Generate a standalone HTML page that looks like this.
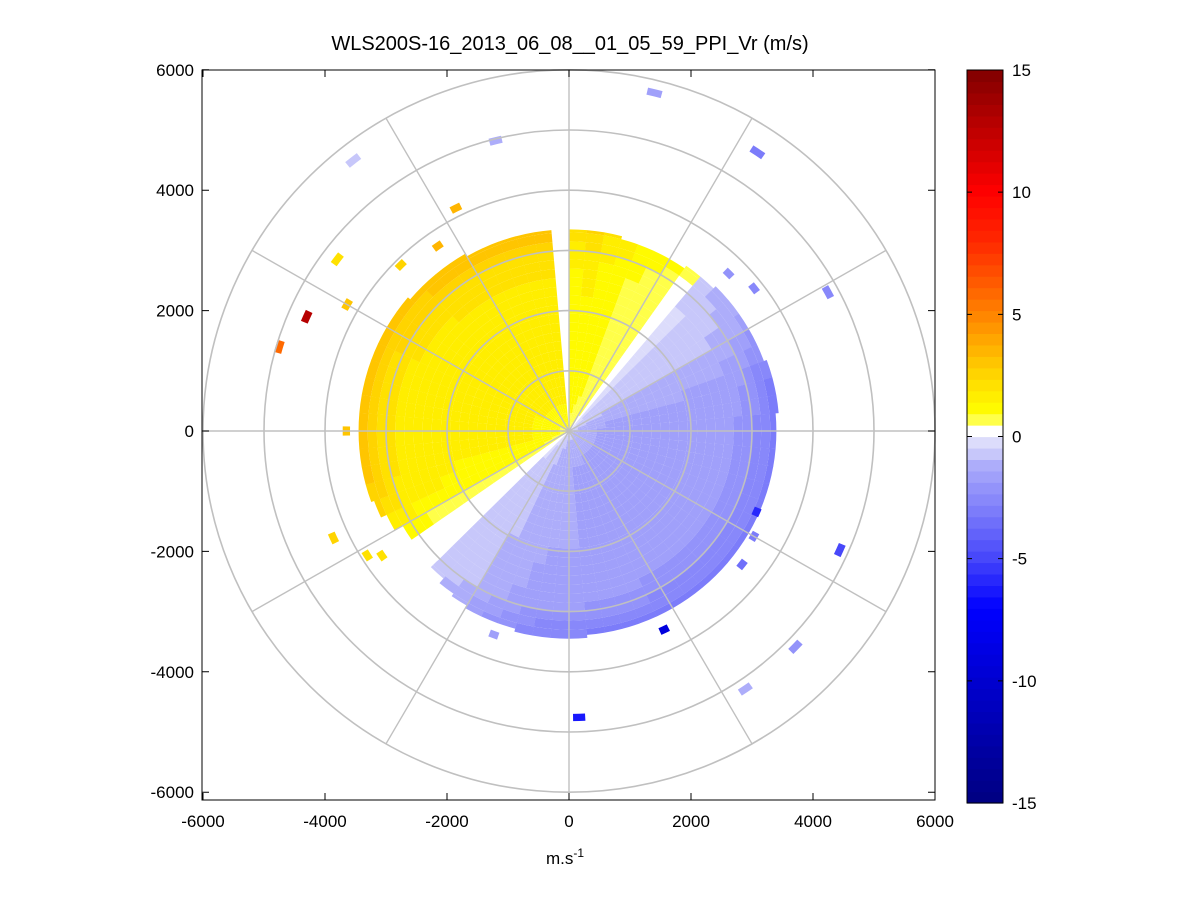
<!DOCTYPE html>
<html><head><meta charset="utf-8"><style>
body{margin:0;background:#fff;}
svg{display:block;font-family:"Liberation Sans",sans-serif;}
</style></head><body>
<svg id="chart" width="1201" height="901" viewBox="0 0 1201 901">
<rect x="0" y="0" width="1201" height="901" fill="#fff"/>
<rect x="202" y="70" width="733" height="730" fill="#fff"/>
<g id="cells"></g>
<g id="grid"></g>
<rect x="202" y="70" width="733" height="730" fill="none" stroke="#000" stroke-width="1"/>
<g id="ticks"></g>
<g id="cbar"></g>
<text x="570" y="50" text-anchor="middle" font-size="20" fill="#000">WLS200S-16_2013_06_08__01_05_59_PPI_Vr (m/s)</text>
<text x="565" y="864" text-anchor="middle" font-size="17" fill="#000">m.s<tspan dy="-7" font-size="12">-1</tspan></text>
</svg>
<script>
// ---- data ----
const azStarts = [0,5,10,15,20,25,30,35,40,45,50,55,60,65,70,75,80,85,90,95,100,105,110,115,120,125,130,135,140,145,150,155,160,165,170,175,180,185,190,195,200,205,210,215,220,225,230,235,240,245,250,255,260,265,270,275,280,285,290,295,300,305,310,315,320,325,330,335,340,345,350,355];
const sectorVel = [1.2,1.3,1.1,1.0,0.8,0.7,0.6,0.3,-0.4,-0.6,-0.7,-0.8,-1.0,-1.2,-1.4,-1.5,-1.5,-1.6,-1.6,-1.6,-1.6,-1.6,-1.6,-1.6,-1.6,-1.6,-1.6,-1.6,-1.6,-1.6,-1.6,-1.5,-1.5,-1.5,-1.5,-1.4,-1.4,-1.4,-1.3,-1.2,-1.0,-0.9,-0.7,-0.6,-0.5,0.2,0.2,0.8,1.1,1.3,1.4,1.5,1.5,1.5,1.5,1.5,1.5,1.5,1.5,1.6,1.6,1.6,1.6,1.7,1.7,1.7,1.7,1.7,1.7,1.7,1.7,null];
const sectorMaxRange = [3350,3350,3350,3300,3300,3300,3300,3350,3350,3400,3400,3400,3400,3400,3450,3450,3450,3400,3400,3400,3400,3400,3400,3400,3400,3400,3400,3400,3400,3400,3400,3400,3400,3400,3400,3450,3450,3450,3450,3400,3400,3400,3350,3300,3200,3050,3000,3150,3300,3400,3450,3450,3450,3450,3500,3500,3500,3450,3450,3450,3450,3450,3400,3400,3400,3400,3350,3350,3350,3350,3350,0];
const gateStarts = [0,150,300,450,600,750,900,1050,1200,1350,1500,1650,1800,1950,2100,2250,2400,2550,2700,2850,3000,3150,3300];
const gateScale = [0.6,0.7,0.8,0.9,0.95,1.0,1.0,1.0,1.0,1.0,1.0,1.0,1.0,1.05,1.05,1.1,1.1,1.15,1.2,1.3,1.5,1.7,1.9];
const outAz = [293.8,286.4,306.9,333.4,321.8,346,14,33.7,61.5,114,134,146,178,154.7,113.6,245.3,270,236,238,300,315,325,45,52,120,128,200];
const outRange = [4700,4950,4750,4140,5720,4970,5790,5565,4830,4860,5160,5170,4760,3650,3355,4250,3650,3700,3900,4200,3900,3750,3700,3850,3500,3600,3600];
const outVel = [13,6,2.2,3.5,-0.8,-1.2,-1.5,-3,-2.5,-5,-2,-1.2,-6.5,-9,-6,2.5,3,2,2.2,3.2,2.6,3.5,-2,-2.5,-3,-3.5,-1.5];
const tickVals = [-6000,-4000,-2000,0,2000,4000,6000];
const cbarTicks = [-15,-10,-5,0,5,10,15];
const ringRanges = [1000,2000,3000,4000,5000,6000];
const spokeAngles = [0,30,60,90,120,150,180,210,240,270,300,330];

// ---- scales ----
const CX = 569, CY = 431, SX = 0.0610, SY = 0.0602;
const px = (x)=>CX + x*SX;
const py = (y)=>CY - y*SY;
const NS = "http://www.w3.org/2000/svg";
function polar(az, r){const a=az*Math.PI/180;return [px(r*Math.sin(a)), py(r*Math.cos(a))];}

const stopsPos = [[0,[255,255,255]],[0.47,[255,255,255]],[0.48,[255,255,128]],[1.0,[255,255,0]],[2.5,[255,215,0]],[4,[255,165,0]],[6,[255,100,0]],[8,[255,40,0]],[10,[255,0,0]],[15,[128,0,0]]];
const stopsNeg = [[0,[225,225,252]],[0.47,[215,215,250]],[1,[178,178,250]],[2,[150,150,250]],[3,[125,125,250]],[5,[70,70,250]],[7,[0,0,255]],[15,[0,0,128]]];
function cmap(v){
  const step = 30/64;
  let q = Math.floor((v+15)/step); q=Math.max(0,Math.min(63,q));
  let c = -15 + (q+0.5)*step;
  const stops = c>=0 ? stopsPos : stopsNeg; const m = Math.abs(c);
  for(let i=1;i<stops.length;i++){
    if(m<=stops[i][0]){const [a0,c0]=stops[i-1],[a1,c1]=stops[i];const t=(m-a0)/(a1-a0||1);
      return `rgb(${c0.map((k,j)=>Math.round(k+(c1[j]-k)*t)).join(',')})`;}
  }
  const l=stops[stops.length-1][1]; return `rgb(${l.join(',')})`;
}
function sectorPath(a0,a1,r0,r1){
  const p1=polar(a0,r0),p2=polar(a0,r1),p3=polar(a1,r1),p4=polar(a1,r0);
  return `M${p1[0]},${p1[1]}L${p2[0]},${p2[1]}A${r1*SX},${r1*SY} 0 0 1 ${p3[0]},${p3[1]}L${p4[0]},${p4[1]}A${r0*SX},${r0*SY} 0 0 0 ${p1[0]},${p1[1]}Z`;
}
const cells = document.getElementById('cells');
azStarts.forEach((az,i)=>{
  const v = sectorVel[i]; if(v===null) return;
  gateStarts.forEach((g,j)=>{
    if(g>=sectorMaxRange[i]) return;
    const r1 = Math.min(g+150, sectorMaxRange[i]);
    const val = v*gateScale[j];
    const p = document.createElementNS(NS,'path');
    p.setAttribute('d', sectorPath(az,az+5.05,g,r1));
    p.setAttribute('fill', cmap(val));
    
    
    cells.appendChild(p);
  });
});
outAz.forEach((az,i)=>{
  const p = document.createElementNS(NS,'path');
  p.setAttribute('d', sectorPath(az-1.2,az+1.2,outRange[i]-60,outRange[i]+60));
  p.setAttribute('fill', cmap(outVel[i]));
  
  
  cells.appendChild(p);
});
const grid = document.getElementById('grid');
ringRanges.forEach(r=>{
  const e=document.createElementNS(NS,'ellipse');
  e.setAttribute('cx',CX);e.setAttribute('cy',CY);e.setAttribute('rx',r*SX);e.setAttribute('ry',r*SY);
  e.setAttribute('fill','none');e.setAttribute('stroke','#c0c0c0');e.setAttribute('stroke-width','1.6');
  
  
  grid.appendChild(e);
});
spokeAngles.forEach(a=>{
  const p=polar(a,6000);
  const l=document.createElementNS(NS,'line');
  l.setAttribute('x1',CX);l.setAttribute('y1',CY);l.setAttribute('x2',p[0]);l.setAttribute('y2',p[1]);
  l.setAttribute('stroke','#c0c0c0');l.setAttribute('stroke-width','1.4');
  
  
  grid.appendChild(l);
});
const ticks = document.getElementById('ticks');
tickVals.forEach(v=>{
  const x=px(v);
  const t1=document.createElementNS(NS,'path');
  t1.setAttribute('d',`M${x},800V793M${x},70V77`);t1.setAttribute('stroke','#000');
  
  
  ticks.appendChild(t1);
  const tx=document.createElementNS(NS,'text');
  tx.setAttribute('x',x);tx.setAttribute('y',827);tx.setAttribute('text-anchor','middle');tx.setAttribute('font-size','17');
  tx.textContent=v;
  
  
  ticks.appendChild(tx);
  const y=py(v);
  const t2=document.createElementNS(NS,'path');
  t2.setAttribute('d',`M202,${y}H209M935,${y}H928`);t2.setAttribute('stroke','#000');
  
  
  ticks.appendChild(t2);
  const ty=document.createElementNS(NS,'text');
  ty.setAttribute('x',194);ty.setAttribute('y',y+6);ty.setAttribute('text-anchor','end');ty.setAttribute('font-size','17');
  ty.textContent=v;
  
  
  ticks.appendChild(ty);
});
const cbar=document.getElementById('cbar');
const CB_T=70, CB_B=803, CB_L=967, CB_W=36;
const cy=(v)=>CB_B-(v+15)/30*(CB_B-CB_T);
for(let q=0;q<64;q++){
  const v0=-15+q*30/64, v1=v0+30/64;
  const r=document.createElementNS(NS,'rect');
  r.setAttribute('x',CB_L);r.setAttribute('y',cy(v1));r.setAttribute('width',CB_W);r.setAttribute('height',cy(v0)-cy(v1)+0.6);
  r.setAttribute('fill',cmap(v0+0.01));
  
  
  cbar.appendChild(r);
}
const cbBox=document.createElementNS(NS,'rect');
cbBox.setAttribute('x',CB_L);cbBox.setAttribute('y',CB_T);cbBox.setAttribute('width',CB_W);cbBox.setAttribute('height',CB_B-CB_T);
cbBox.setAttribute('fill','none');cbBox.setAttribute('stroke','#000');


cbar.appendChild(cbBox);
cbarTicks.forEach(v=>{
  const y=cy(v);
  const t=document.createElementNS(NS,'path');
  t.setAttribute('d',`M${CB_L},${y}h5M${CB_L+CB_W},${y}h-5`);t.setAttribute('stroke','#000');
  
  
  cbar.appendChild(t);
  const tx=document.createElementNS(NS,'text');
  tx.setAttribute('x',CB_L+CB_W+9);tx.setAttribute('y',y+6);tx.setAttribute('font-size','17');
  tx.textContent=v;
  
  
  cbar.appendChild(tx);
});
</script>
</body></html>
